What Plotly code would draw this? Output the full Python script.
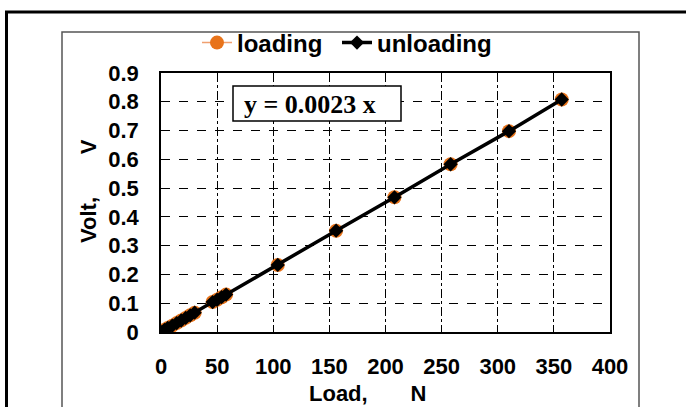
import plotly.graph_objects as go

# Data
load_loading = [0, 3, 6, 10, 14, 18, 22, 26, 30, 46, 50, 54, 58, 104, 156, 208, 258, 310, 357]
volt_loading = [0.0, 0.007, 0.014, 0.022, 0.031, 0.040, 0.049, 0.058, 0.067, 0.104, 0.112, 0.121, 0.130, 0.233, 0.352, 0.468, 0.583, 0.698, 0.808]
load_unloading = [357, 310, 258, 208, 156, 104, 58, 54, 50, 46, 30, 26, 22, 18, 14, 10, 6, 3, 0]
volt_unloading = [0.808, 0.698, 0.583, 0.468, 0.352, 0.233, 0.130, 0.121, 0.112, 0.104, 0.067, 0.058, 0.049, 0.040, 0.031, 0.022, 0.014, 0.007, 0.0]

x_ticks = [0, 50, 100, 150, 200, 250, 300, 350, 400]
y_ticks = [0, 0.1, 0.2, 0.3, 0.4, 0.5, 0.6, 0.7, 0.8, 0.9]
equation = "y = 0.0023 x"

W, H = 686, 407
L, R, T, B = 161, 610, 73, 332  # plot area in pixels


def px(x):
    return (x - L) / (R - L)


def py(y):
    return (B - y) / (B - T)


ORANGE = "#E8731A"
FONT = "Arial, Liberation Sans, sans-serif"

fig = go.Figure()
fig.add_trace(go.Scatter(
    x=load_loading, y=volt_loading, name="loading", mode="lines+markers",
    line=dict(color="#F0A070", width=1.5),
    marker=dict(symbol="circle", size=14, color=ORANGE),
    legend="legend",
))
fig.add_trace(go.Scatter(
    x=load_unloading, y=volt_unloading, name="unloading", mode="lines+markers",
    line=dict(color="black", width=3.5),
    marker=dict(symbol="diamond", size=11, color="black"),
    legend="legend2",
))

shapes = [
    # outer frame
    dict(type="line", xref="paper", yref="paper", x0=px(6.5), x1=px(6.5), y0=py(12), y1=py(420),
         line=dict(color="black", width=3)),
    dict(type="line", xref="paper", yref="paper", x0=px(5), x1=px(700), y0=py(12), y1=py(12),
         line=dict(color="black", width=3)),
    # inner chart area frame
    dict(type="rect", xref="paper", yref="paper", x0=px(62), x1=px(639), y0=py(32), y1=py(420),
         line=dict(color="#555555", width=1.5)),
    # equation box
    dict(type="rect", xref="paper", yref="paper", x0=px(233), x1=px(401), y0=py(86), y1=py(121),
         line=dict(color="black", width=1.5), fillcolor="white"),
]

annotations = [
    dict(text=equation, xref="paper", yref="paper", x=px(310), y=py(104), showarrow=False,
         xanchor="center", yanchor="middle",
         font=dict(family="Times New Roman, Liberation Serif, serif", size=26, color="black", weight="bold")),
    dict(text="Load,\u00a0\u00a0\u00a0\u00a0\u00a0\u00a0\u00a0N", xref="paper", yref="paper",
         x=px(367), y=py(393), showarrow=False, xanchor="center", yanchor="middle",
         font=dict(family=FONT, size=22, color="black", weight="bold")),
    dict(text="Volt,\u00a0\u00a0\u00a0\u00a0\u00a0\u00a0\u00a0V", xref="paper", yref="paper",
         x=px(88), y=py(191), showarrow=False, xanchor="center", yanchor="middle", textangle=-90,
         font=dict(family=FONT, size=22, color="black", weight="bold")),
]

legend_font = dict(family=FONT, size=24, color="black", weight="bold")
fig.update_layout(
    width=W, height=H,
    margin=dict(l=L, r=W - R, t=T, b=H - B),
    paper_bgcolor="white", plot_bgcolor="white",
    showlegend=True,
    legend=dict(orientation="h", x=px(197), y=py(43), xanchor="left", yanchor="middle",
                font=legend_font, bgcolor="rgba(0,0,0,0)", itemwidth=30),
    legend2=dict(orientation="h", x=px(337), y=py(43), xanchor="left", yanchor="middle",
                 font=legend_font, bgcolor="rgba(0,0,0,0)", itemwidth=30),
    shapes=shapes,
    annotations=annotations,
)
fig.update_xaxes(
    range=[0, 400], tickvals=x_ticks, ticktext=[str(v) for v in x_ticks],
    showgrid=True, gridcolor="black", gridwidth=1, griddash="dashdot",
    showline=True, linecolor="black", linewidth=1.5, mirror=True, zeroline=False,
    ticks="", ticklabelstandoff=14,
    tickfont=dict(family=FONT, size=22, color="black", weight="bold"),
)
fig.update_yaxes(
    range=[0, 0.9], tickvals=y_ticks, ticktext=["0"] + [f"{v:.1f}" for v in y_ticks[1:]],
    showgrid=True, gridcolor="black", gridwidth=1, griddash="dash",
    showline=True, linecolor="black", linewidth=1.5, mirror=True, zeroline=False,
    ticks="", ticklabelstandoff=16,
    tickfont=dict(family=FONT, size=22, color="black", weight="bold"),
)

fig.write_html("out.html")
